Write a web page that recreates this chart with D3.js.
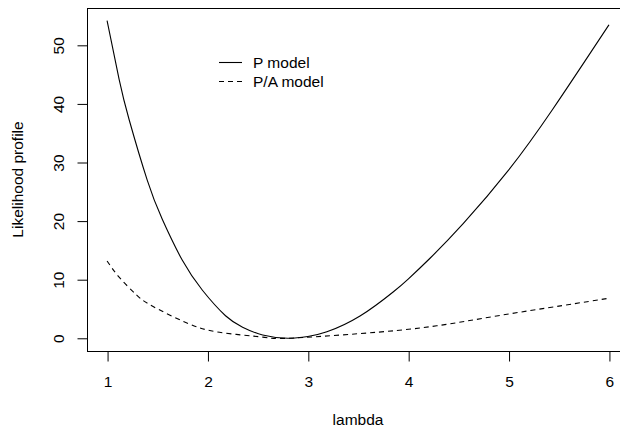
<!DOCTYPE html>
<html>
  <head>
    <meta charset="utf-8">
    <title>Likelihood profile</title>
    <script src="https://d3js.org/d3.v7.min.js"></script>
    <style>
      body {
        margin: 0;
        background: #fff;
        font-family: "Liberation Sans", Arial, sans-serif;
      }
      text {
        font-size: 15.5px;
        fill: #000;
      }
      .box {
        fill: none;
        stroke: #000;
        stroke-width: 1;
      }
      .tick line {
        stroke: #000;
      }
      .curve {
        fill: none;
        stroke: #000;
        stroke-width: 1.1;
      }
    </style>
  </head>
  <body>
    <div id="chart"></div>
    <script>
      // values
      const lambdaP = [1.0, 1.12, 1.22, 1.40, 1.55, 1.75, 1.95, 2.18, 2.35, 2.55, 2.80, 3.0, 3.19, 3.52, 3.85, 4.0, 4.22, 4.55, 5.0, 5.44, 6.0];
      const profileP = [54.2, 44.2, 37.3, 27.0, 20.3, 13.3, 8.2, 3.85, 1.9, 0.55, 0, 0.3, 1.1, 3.8, 7.9, 10.1, 13.7, 19.6, 28.7, 39.1, 53.5];

      const lambdaPA = [1.0, 1.12, 1.29, 1.45, 1.79, 2.12, 2.55, 2.80, 3.52, 4.22, 4.88, 5.54, 6.0];
      const profilePA = [13.2, 10.45, 7.45, 5.5, 2.65, 1.02, 0.2, 0, 0.8, 1.98, 3.8, 5.6, 6.83];

      const xTicks = [1, 2, 3, 4, 5, 6];
      const yTicks = [0, 10, 20, 30, 40, 50];
      const legendLabels = ["P model", "P/A model"];

      const width = 620, height = 428;
      // plot region as in the R figure (right edge falls just past the image)
      const plotL = 87, plotR = 629, plotT = 8, plotB = 351;

      const svg = d3.select("#chart").append("svg")
        .attr("width", width)
        .attr("height", height);

      const x = d3.scaleLinear().domain([0.8, 6.2]).range([plotL, plotR]);
      const y = d3.scaleLinear().domain([-2.17, 56.37]).range([plotB, plotT]);

      svg.append("rect")
        .attr("class", "box")
        .attr("x", plotL + 0.5)
        .attr("y", plotT + 0.5)
        .attr("width", plotR - plotL)
        .attr("height", plotB - plotT);

      // x axis
      const xAxis = d3.axisBottom(x).tickValues(xTicks).tickSize(10).tickPadding(14).tickFormat(d3.format("d"));
      const gx = svg.append("g")
        .attr("transform", `translate(0.5,${plotB + 0.5})`)
        .call(xAxis);
      gx.select(".domain").remove();
      gx.selectAll("text").style("font-size", "15.5px").attr("fill", "#000");

      // y axis, labels turned like R's default
      const gy = svg.append("g").attr("transform", `translate(${plotL + 0.5},0.5)`);
      gy.selectAll("line").data(yTicks).join("line")
        .attr("x1", -10).attr("x2", 0)
        .attr("y1", d => y(d)).attr("y2", d => y(d))
        .attr("stroke", "#000");
      gy.selectAll("text").data(yTicks).join("text")
        .attr("transform", d => `translate(-23.5,${y(d)}) rotate(-90)`)
        .attr("text-anchor", "middle")
        .text(d => d);

      svg.append("text")
        .attr("x", (plotL + plotR) / 2)
        .attr("y", 425)
        .attr("text-anchor", "middle")
        .text("lambda");

      svg.append("text")
        .attr("transform", `translate(23,${(plotT + plotB) / 2}) rotate(-90)`)
        .attr("text-anchor", "middle")
        .text("Likelihood profile");

      const line = d3.line()
        .x(d => x(d[0]))
        .y(d => y(d[1]))
        .curve(d3.curveNatural);

      svg.append("path")
        .attr("class", "curve")
        .attr("d", line(d3.zip(lambdaP, profileP)));

      svg.append("path")
        .attr("class", "curve")
        .attr("stroke-dasharray", "5,4")
        .attr("d", line(d3.zip(lambdaPA, profilePA)));

      // legend
      const leg = svg.append("g").attr("transform", "translate(219,62.5)");
      legendLabels.forEach((lab, i) => {
        leg.append("line")
          .attr("x1", 0).attr("x2", 23)
          .attr("y1", i * 19).attr("y2", i * 19)
          .attr("stroke", "#000")
          .attr("stroke-width", 1.1)
          .attr("stroke-dasharray", i === 1 ? "5,4" : null);
        leg.append("text")
          .attr("x", 34)
          .attr("y", i * 19 + 5.5)
          .text(lab);
      });
    </script>
  </body>
</html>
